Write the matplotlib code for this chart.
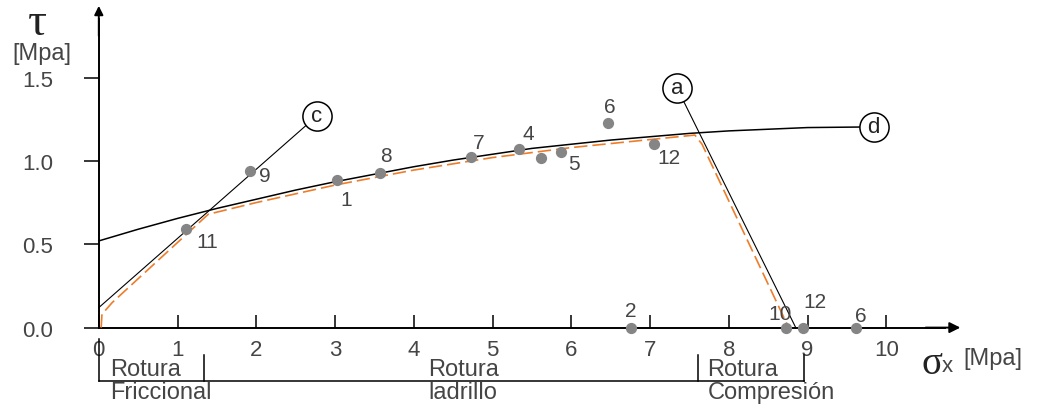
import matplotlib.pyplot as plt

# failure envelope "d" (sigma_x, tau) in MPa
d_sigma = [0.0, 0.5, 1.0, 1.5, 2.0, 2.5, 3.0, 3.5, 4.0, 4.5, 5.0, 5.5, 6.0,
           6.5, 7.0, 7.5, 8.0, 8.5, 9.0, 9.84]
d_tau = [0.52, 0.59, 0.655, 0.715, 0.77, 0.825, 0.875, 0.92, 0.965, 1.005,
         1.04, 1.075, 1.10, 1.125, 1.145, 1.165, 1.18, 1.19, 1.20, 1.204]

# friction line "c" and compression line "a"
c_sigma = [0.0, 2.77]
c_tau = [0.12, 1.27]
a_sigma = [7.34, 8.85]
a_tau = [1.44, 0.0]

# combined criterion (dashed)
env_sigma = [0.03, 0.04, 0.17, 1.39, 2.0, 3.0, 4.0, 5.0, 6.0, 7.0, 7.57, 7.66, 8.76]
env_tau = [0.0, 0.08, 0.15, 0.68, 0.75, 0.855, 0.945, 1.02, 1.08, 1.128, 1.155, 1.10, 0.0]

# test results
pt_labels = ["11", "9", "1", "8", "7", "4", "", "5", "6", "12", "2", "10", "12", "6"]
pt_sigma = [1.11, 1.92, 3.02, 3.57, 4.73, 5.33, 5.61, 5.87, 6.47, 7.05, 6.76, 8.72, 8.94, 9.62]
pt_tau = [0.594, 0.94, 0.886, 0.93, 1.026, 1.07, 1.016, 1.054, 1.226, 1.104, 0.0, 0.0, 0.0, 0.0]

# failure regions along the sigma axis
zone_edges = [0.0, 1.34, 7.61, 8.96]
zone_names = [("Rotura", "Friccional"), ("Rotura", "ladrillo"), ("Rotura", "Compresión")]

x_ticks = list(range(0, 11))
y_ticks = [0.0, 0.5, 1.0, 1.5]

GRAY = "#454545"
plt.rcParams["font.family"] = ["Liberation Sans", "DejaVu Sans"]
plt.rcParams["mathtext.fontset"] = "custom"
plt.rcParams["mathtext.rm"] = "Liberation Serif"
plt.rcParams["mathtext.it"] = "Liberation Serif"

fig = plt.figure(figsize=(10.39, 4.06), dpi=100)
ax = fig.add_axes([0, 0, 1, 1])
ax.set_xlim(-1.2546, 11.939)
ax.set_ylim(-0.4643, 1.9712)

for side in ["top", "right"]:
    ax.spines[side].set_visible(False)
ax.spines["left"].set_position(("data", 0))
ax.spines["bottom"].set_position(("data", 0))
ax.spines["left"].set_bounds(0, 1.85)
ax.spines["bottom"].set_bounds(0, 10.75)
ax.spines["left"].set_linewidth(1.4)
ax.spines["bottom"].set_linewidth(1.4)

ax.annotate("", xy=(10.94, 0), xytext=(10.5, 0),
            arrowprops=dict(arrowstyle="-|>", color="k", lw=1.4,
                            mutation_scale=16, shrinkA=0, shrinkB=0))
ax.annotate("", xy=(0, 1.93), xytext=(0, 1.75),
            arrowprops=dict(arrowstyle="-|>", color="k", lw=1.4,
                            mutation_scale=13, shrinkA=0, shrinkB=0))

ax.set_xticks(x_ticks)
ax.set_xticklabels([str(t) for t in x_ticks])
ax.set_yticks(y_ticks)
ax.set_yticklabels([f"{t:.1f}" for t in y_ticks])
ax.tick_params(axis="x", direction="in", length=9.5, width=1.1, pad=8,
               labelsize=16, labelcolor=GRAY)
ax.tick_params(axis="y", direction="out", length=11, width=1.1, pad=22,
               labelsize=16, labelcolor=GRAY)

# lines
ax.plot(d_sigma, d_tau, color="k", lw=1.1, zorder=3)
ax.plot(c_sigma, c_tau, color="k", lw=0.8, zorder=3)
ax.plot(a_sigma, a_tau, color="k", lw=0.8, zorder=3)
ax.plot(env_sigma, env_tau, color="#ee7d2a", lw=1.2, dashes=(8, 3), zorder=3)

# circled line tags
for name, sx, ty in [("c", c_sigma[-1], c_tau[-1]), ("a", a_sigma[0], a_tau[0]),
                     ("d", d_sigma[-1], d_tau[-1])]:
    ax.plot(sx, ty, marker="o", ms=21, mfc="white", mec="k", mew=1.1, zorder=5)
    ax.text(sx, ty, name, ha="center", va="center", fontsize=16,
            color="#222222", zorder=6)

# test points with their numbers (offsets in points)
offsets = [(15, -9), (11, -3), (7, -14), (4, 12), (5, 10), (7, 11), (0, 0),
           (9, -8), (1, 12), (11, -10), (0, 12), (-4, 10), (9, 19), (3, 9)]
ax.scatter(pt_sigma, pt_tau, s=50, color="#858585", zorder=4, clip_on=False)
for lab, sx, ty, off in zip(pt_labels, pt_sigma, pt_tau, offsets):
    if lab:
        ax.annotate(lab, (sx, ty), xytext=off, textcoords="offset points",
                    ha="center", va="center", fontsize=15, color=GRAY)

# failure region brackets
bar_y = -0.32
ax.plot([zone_edges[0], zone_edges[-1]], [bar_y, bar_y], color="k", lw=1.1)
ax.plot([zone_edges[0], zone_edges[0]], [bar_y, -0.07], color="k", lw=1.1)
for edge in zone_edges[1:]:
    ax.plot([edge, edge], [bar_y, -0.165], color="k", lw=1.1)
ax.text(0.14, -0.25, zone_names[0][0], ha="left", va="center", fontsize=17, color=GRAY)
ax.text(0.14, -0.385, zone_names[0][1], ha="left", va="center", fontsize=17, color=GRAY)
ax.text(4.63, -0.25, zone_names[1][0], ha="center", va="center", fontsize=17, color=GRAY)
ax.text(4.62, -0.385, zone_names[1][1], ha="center", va="center", fontsize=17, color=GRAY)
ax.text(7.73, -0.25, zone_names[2][0], ha="left", va="center", fontsize=17, color=GRAY)
ax.text(7.73, -0.385, zone_names[2][1], ha="left", va="center", fontsize=17, color=GRAY)

# axis titles
ax.text(-0.78, 1.835, r"$\mathrm{τ}$", ha="center", va="center", fontsize=34,
        color="#222222")
ax.text(-0.72, 1.645, "[Mpa]", ha="center", va="center", fontsize=17, color=GRAY)
ax.text(10.58, -0.215, r"$\mathrm{σ}$", ha="center", va="center", fontsize=28,
        color="#222222")
ax.text(10.78, -0.225, "x", ha="center", va="center", fontsize=16, color=GRAY)
ax.text(11.35, -0.18, "[Mpa]", ha="center", va="center", fontsize=17, color=GRAY)

fig.savefig("out.png", dpi=100)
